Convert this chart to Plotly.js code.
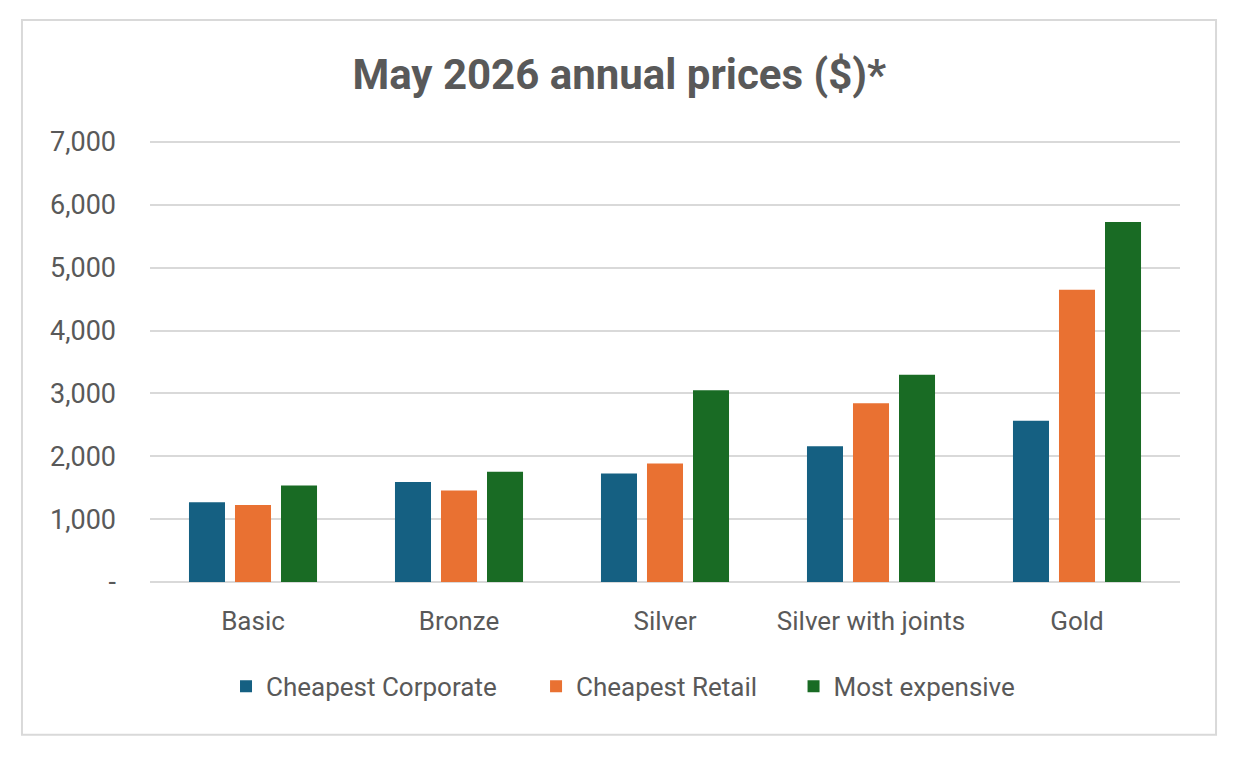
<!DOCTYPE html>
<html>
<head>
<meta charset="utf-8">
<script src="https://cdn.plot.ly/plotly-3.0.1.min.js"></script>
<style>
  html, body { margin: 0; padding: 0; background: #ffffff; }
  #chart { width: 1246px; height: 760px; }
</style>
</head>
<body>
<div id="chart"></div>
<script>
// Plan tiers and prices
const categories = ['Basic', 'Bronze', 'Silver', 'Silver with joints', 'Gold'];
const cheapestCorporate = [1270, 1590, 1725, 2160, 2565];
const cheapestRetail = [1225, 1455, 1885, 2845, 4650];
const mostExpensive = [1535, 1755, 3050, 3295, 5725];
const yTickVals = [0, 1000, 2000, 3000, 4000, 5000, 6000, 7000];
const yTickText = ['-', '1,000', '2,000', '3,000', '4,000', '5,000', '6,000', '7,000'];

const textColor = '#595959';
const gridColor = '#d9d9d9';
const fontFamily = 'Roboto, sans-serif';

function barTrace(name, values, color, legendId) {
    return {
        type: 'bar',
        name: name,
        x: categories,
        y: values,
        legend: legendId,
        marker: { color: color, line: { width: 0 } },
        hovertemplate: '%{x}: %{y:,}<extra>' + name + '</extra>'
    };
}

// one legend per series so the spacing between entries matches
function legendAt(x) {
    return {
        orientation: 'h',
        x: x,
        xanchor: 'left',
        y: -0.236,
        yanchor: 'middle',
        font: { size: 26, color: textColor },
        itemwidth: 30,
        bgcolor: 'rgba(0,0,0,0)'
    };
}

const traces = [
    barTrace('Cheapest Corporate', cheapestCorporate, '#156082', 'legend'),
    barTrace('Cheapest Retail', cheapestRetail, '#e97132', 'legend2'),
    barTrace('Most expensive', mostExpensive, '#196b24', 'legend3')
];

const layout = {
    width: 1246,
    height: 760,
    title: {
        text: '<b>May 2026 annual prices ($)*</b>',
        font: { family: fontFamily, size: 42, color: textColor },
        xref: 'container',
        x: 0.497,
        xanchor: 'center',
        yref: 'container',
        y: 0.902,
        yanchor: 'middle'
    },
    font: { family: fontFamily, color: textColor },
    barmode: 'group',
    bargap: 0.33,
    bargroupgap: 0.217,
    xaxis: {
        type: 'category',
        tickfont: { size: 26, color: textColor },
        ticklabelstandoff: 21,
        showgrid: false,
        showline: false,
        ticks: ''
    },
    yaxis: {
        range: [0, 7030],
        tickvals: yTickVals,
        ticktext: yTickText,
        tickfont: { size: 27, color: textColor },
        ticklabelstandoff: 33,
        gridcolor: gridColor,
        gridwidth: 2,
        zeroline: true,
        zerolinecolor: gridColor,
        zerolinewidth: 2,
        showline: false,
        ticks: ''
    },
    showlegend: true,
    legend: legendAt(0.0738),
    legend2: legendAt(0.3748),
    legend3: legendAt(0.6248),
    shapes: [{
        type: 'rect',
        xref: 'paper',
        yref: 'paper',
        x0: -0.1243,
        x1: 1.035,
        y0: -0.3455,
        y1: 1.2715,
        line: { color: gridColor, width: 2 },
        fillcolor: 'rgba(0,0,0,0)',
        layer: 'below'
    }],
    margin: { l: 150, r: 66, t: 140, b: 178 },
    plot_bgcolor: '#ffffff',
    paper_bgcolor: '#ffffff'
};

Plotly.newPlot('chart', traces, layout, { displayModeBar: false, responsive: false });
</script>
</body>
</html>
